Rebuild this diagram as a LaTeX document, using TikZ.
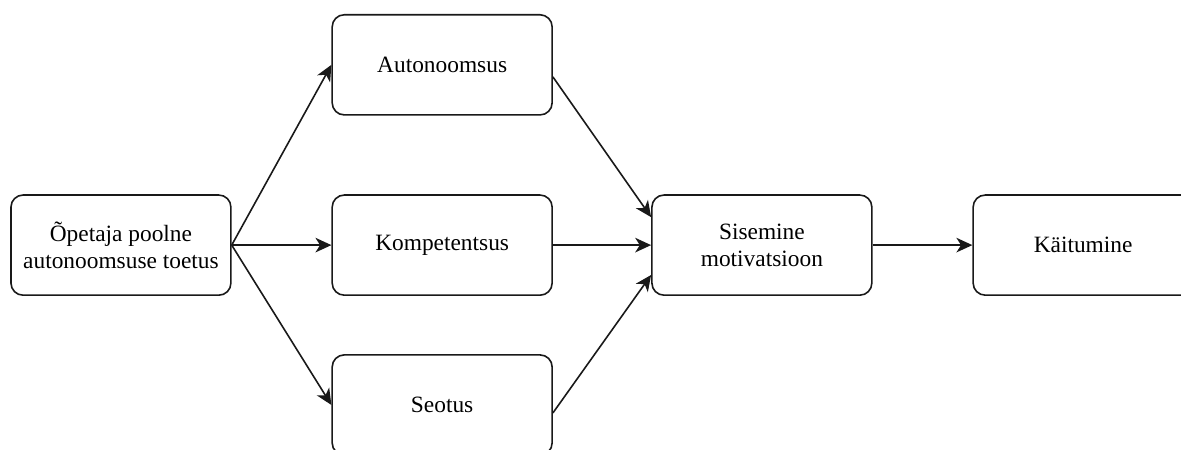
\documentclass[tikz,border=0pt]{standalone}
\usepackage{fontspec}
\setmainfont{Liberation Serif}
\usepackage{tikz}
\usetikzlibrary{positioning, arrows.meta}

\tikzset{
    box/.style={draw=black!90, line width=1.2pt, rounded corners=0.32cm,
        minimum width=5.82cm, minimum height=2.65cm, align=center,
        font=\fontsize{17.6}{20.3}\selectfont},
    link/.style={draw=black!90, line width=1.2pt, -{Stealth[length=12pt,width=11pt,inset=3.5pt]}}
}

\begin{document}
\begin{tikzpicture}
    \useasboundingbox (0,0) rectangle (31.25,11.906);   % frame of the picture
    \clip (0,0) rectangle (31.25,11.906);
    \node [box] (toetus) at (3.20,5.42) {Õpetaja poolne\\autonoomsuse toetus};
    \node [box] (auto) at (11.70,10.19) {Autonoomsus};
    \node [box] (komp) at (11.70,5.42) {Kompetentsus};
    \node [box] (seotus) at (11.70,1.19) {Seotus};
    \node [box] (sisem) at (20.16,5.42) {Sisemine\\motivatsioon};
    \node [box] (kaitum) at (28.66,5.42) {Käitumine};
    \draw [link] (toetus.east) -- (auto.west);           % needs
    \draw [link] (toetus.east) -- (komp.west);
    \draw [link] (toetus.east) -- (seotus.west);
    \draw [link] ([yshift=-0.32cm]auto.east) -- ([yshift=0.74cm]sisem.west);
    \draw [link] (komp.east) -- (sisem.west);
    \draw [link] ([yshift=-0.21cm]seotus.east) -- ([yshift=-0.79cm]sisem.west);
    \draw [link] (sisem.east) -- (kaitum.west);          % outcome
\end{tikzpicture}
\end{document}
